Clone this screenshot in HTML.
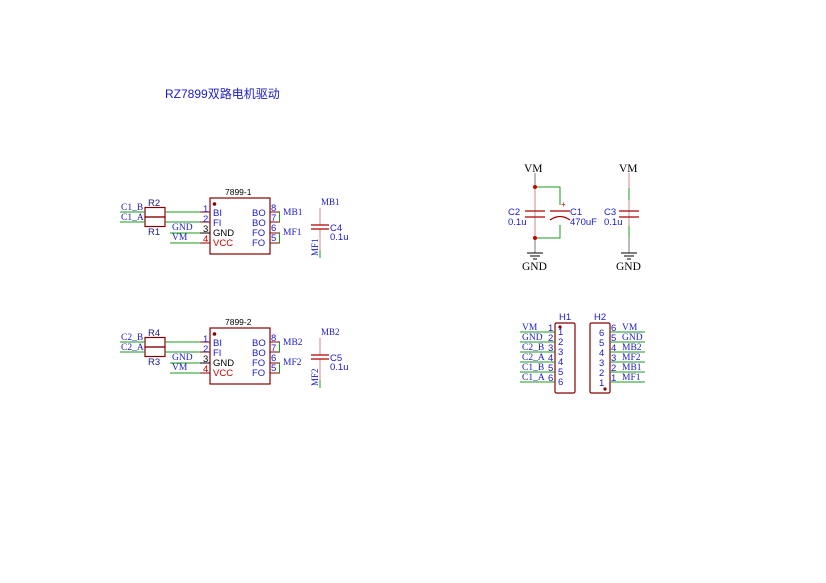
<!DOCTYPE html>
<html><head><meta charset="utf-8"><style>
html,body{margin:0;padding:0;background:#fff;}
svg{display:block;}
.b{fill:#1a1acc;font-family:"Liberation Sans",sans-serif;font-size:9.5px;}
.s{fill:#1a1acc;font-family:"Liberation Serif",serif;font-size:9.5px;}
.k{fill:#000;font-family:"Liberation Sans",sans-serif;font-size:9.5px;}
.r{fill:#cc0000;font-family:"Liberation Sans",sans-serif;font-size:9.5px;}
.rd{stroke:#840000;stroke-width:1.2;fill:none;}
.g{stroke:#1a9a1a;stroke-width:1;fill:none;}
.p{stroke:#840000;stroke-width:1;fill:none;}
</style></head><body>
<svg width="826" height="583" viewBox="0 0 826 583" xmlns="http://www.w3.org/2000/svg">
<text x="165" y="98" style="fill:#1a1acc;font-family:'Liberation Sans','Noto Sans CJK SC',sans-serif;font-size:12px;">RZ7899双路电机驱动</text>

<g id="blk">
<rect x="145" y="207.5" width="20" height="9.5" class="rd"/>
<rect x="145" y="217" width="20" height="9.5" class="rd"/>
<text x="148" y="206" class="b" style="fill:#1a1a80">R2</text>
<text x="148" y="235" class="b" style="fill:#1a1a80">R1</text>
<line x1="120" y1="212" x2="145" y2="212" class="g"/>
<line x1="120" y1="222" x2="145" y2="222" class="g"/>
<text x="121" y="210" class="s">C1_B</text>
<text x="121" y="220" class="s">C1_A</text>
<line x1="165" y1="212" x2="200" y2="212" class="g"/>
<line x1="165" y1="222" x2="200" y2="222" class="g"/>
<line x1="170" y1="233" x2="200" y2="233" class="g"/>
<line x1="170" y1="243" x2="200" y2="243" class="g"/>
<text x="172" y="230" class="s">GND</text>
<text x="172" y="240" class="s">VM</text>
<text x="225" y="195" class="k" style="font-size:8.5px">7899-1</text>
<rect x="210" y="198" width="60" height="56" class="rd"/>
<circle cx="214.5" cy="204" r="1.8" fill="#840000"/>
<line x1="200" y1="212" x2="210" y2="212" class="p"/>
<line x1="200" y1="222" x2="210" y2="222" class="p"/>
<line x1="200" y1="233" x2="210" y2="233" stroke="#000"/>
<line x1="200" y1="243" x2="210" y2="243" class="p"/>
<line x1="270" y1="212" x2="280" y2="212" class="p"/>
<line x1="270" y1="222" x2="280" y2="222" class="p"/>
<line x1="270" y1="233" x2="280" y2="233" class="p"/>
<line x1="270" y1="243" x2="280" y2="243" class="p"/>
<text x="203" y="212" class="b">1</text><text x="203" y="222" class="b">2</text>
<text x="203" y="232" class="k">3</text><text x="203" y="242" class="r">4</text>
<text x="213" y="216" class="b">BI</text><text x="213" y="226" class="b">FI</text>
<text x="213" y="236" class="k">GND</text><text x="213" y="246" class="r">VCC</text>
<text x="252" y="216" class="b">BO</text><text x="252" y="226" class="b">BO</text>
<text x="252" y="236" class="b">FO</text><text x="252" y="246" class="b">FO</text>
<text x="271" y="211" class="b">8</text><text x="271" y="221" class="b">7</text>
<text x="271" y="231" class="b">6</text><text x="271" y="241" class="b">5</text>
<line x1="279.5" y1="212" x2="279.5" y2="222" class="g"/>
<line x1="279.5" y1="233" x2="279.5" y2="243" class="g"/>
<text x="283" y="215" class="s">MB1</text>
<text x="283" y="235" class="s">MF1</text>
<line x1="320" y1="208" x2="320" y2="225" stroke="#c98a8a" stroke-width="1"/>
<line x1="320" y1="229" x2="320" y2="250" stroke="#c98a8a" stroke-width="1"/>
<line x1="320" y1="250" x2="320" y2="258" class="g"/>
<line x1="311" y1="225" x2="329" y2="225" stroke="#a00" stroke-width="1.3"/>
<line x1="311" y1="229" x2="329" y2="229" stroke="#a00" stroke-width="1.3"/>
<text x="321" y="205" class="s" style="font-size:9px">MB1</text>
<text x="330" y="231" class="b">C4</text>
<text x="330" y="240" class="b">0.1u</text>
<text transform="translate(318,256) rotate(-90)" class="s" style="font-size:9px">MF1</text>
</g>

<g transform="translate(0,130)">
<rect x="145" y="207.5" width="20" height="9.5" class="rd"/>
<rect x="145" y="217" width="20" height="9.5" class="rd"/>
<text x="148" y="206" class="b" style="fill:#1a1a80">R4</text>
<text x="148" y="235" class="b" style="fill:#1a1a80">R3</text>
<line x1="120" y1="212" x2="145" y2="212" class="g"/>
<line x1="120" y1="222" x2="145" y2="222" class="g"/>
<text x="121" y="210" class="s">C2_B</text>
<text x="121" y="220" class="s">C2_A</text>
<line x1="165" y1="212" x2="200" y2="212" class="g"/>
<line x1="165" y1="222" x2="200" y2="222" class="g"/>
<line x1="170" y1="233" x2="200" y2="233" class="g"/>
<line x1="170" y1="243" x2="200" y2="243" class="g"/>
<text x="172" y="230" class="s">GND</text>
<text x="172" y="240" class="s">VM</text>
<text x="225" y="195" class="k" style="font-size:8.5px">7899-2</text>
<rect x="210" y="198" width="60" height="56" class="rd"/>
<circle cx="214.5" cy="204" r="1.8" fill="#840000"/>
<line x1="200" y1="212" x2="210" y2="212" class="p"/>
<line x1="200" y1="222" x2="210" y2="222" class="p"/>
<line x1="200" y1="233" x2="210" y2="233" stroke="#000"/>
<line x1="200" y1="243" x2="210" y2="243" class="p"/>
<line x1="270" y1="212" x2="280" y2="212" class="p"/>
<line x1="270" y1="222" x2="280" y2="222" class="p"/>
<line x1="270" y1="233" x2="280" y2="233" class="p"/>
<line x1="270" y1="243" x2="280" y2="243" class="p"/>
<text x="203" y="212" class="b">1</text><text x="203" y="222" class="b">2</text>
<text x="203" y="232" class="k">3</text><text x="203" y="242" class="r">4</text>
<text x="213" y="216" class="b">BI</text><text x="213" y="226" class="b">FI</text>
<text x="213" y="236" class="k">GND</text><text x="213" y="246" class="r">VCC</text>
<text x="252" y="216" class="b">BO</text><text x="252" y="226" class="b">BO</text>
<text x="252" y="236" class="b">FO</text><text x="252" y="246" class="b">FO</text>
<text x="271" y="211" class="b">8</text><text x="271" y="221" class="b">7</text>
<text x="271" y="231" class="b">6</text><text x="271" y="241" class="b">5</text>
<line x1="279.5" y1="212" x2="279.5" y2="222" class="g"/>
<line x1="279.5" y1="233" x2="279.5" y2="243" class="g"/>
<text x="283" y="215" class="s">MB2</text>
<text x="283" y="235" class="s">MF2</text>
<line x1="320" y1="208" x2="320" y2="225" stroke="#c98a8a" stroke-width="1"/>
<line x1="320" y1="229" x2="320" y2="250" stroke="#c98a8a" stroke-width="1"/>
<line x1="320" y1="250" x2="320" y2="258" class="g"/>
<line x1="311" y1="225" x2="329" y2="225" stroke="#a00" stroke-width="1.3"/>
<line x1="311" y1="229" x2="329" y2="229" stroke="#a00" stroke-width="1.3"/>
<text x="321" y="205" class="s" style="font-size:9px">MB2</text>
<text x="330" y="231" class="b">C5</text>
<text x="330" y="240" class="b">0.1u</text>
<text transform="translate(318,256) rotate(-90)" class="s" style="font-size:9px">MF2</text>
</g>

<text x="524" y="172" class="s" style="font-size:11.5px;fill:#000">VM</text>
<line x1="535" y1="173" x2="535" y2="187" stroke="#777"/>
<line x1="535" y1="187" x2="535" y2="238" stroke="#c98a8a"/>
<line x1="535" y1="238" x2="535" y2="253" stroke="#777"/>
<polyline points="535,187 560,187 560,238 535,238" class="g"/>
<circle cx="535" cy="187" r="2" fill="#c00"/>
<circle cx="535" cy="238" r="2" fill="#c00"/>
<line x1="525" y1="211" x2="545" y2="211" stroke="#a00" stroke-width="1.3"/>
<line x1="525" y1="217" x2="545" y2="217" stroke="#a00" stroke-width="1.3"/>
<rect x="556" y="205" width="8" height="20" fill="#fff"/>
<line x1="550" y1="211" x2="570" y2="211" stroke="#a00" stroke-width="1.3"/>
<path d="M550,220 Q560,213 570,220" stroke="#a00" stroke-width="1.3" fill="none"/>
<text x="561" y="207" class="r" style="font-size:8px">+</text>
<text x="508" y="215" class="b">C2</text><text x="508" y="225" class="b">0.1u</text>
<text x="570" y="215" class="b">C1</text><text x="570" y="225" class="b">470uF</text>
<line x1="527" y1="253" x2="543" y2="253" stroke="#000"/>
<line x1="530" y1="256" x2="540" y2="256" stroke="#000"/>
<line x1="533" y1="259" x2="537" y2="259" stroke="#000"/>
<text x="522" y="270" class="s" style="font-size:11.5px;fill:#000">GND</text>

<text x="619" y="172" class="s" style="font-size:11.5px;fill:#000">VM</text>
<line x1="629" y1="173" x2="629" y2="253" stroke="#c98a8a"/>
<line x1="629" y1="188" x2="629" y2="200" class="g"/>
<line x1="629" y1="226" x2="629" y2="238" class="g"/>
<line x1="629" y1="238" x2="629" y2="253" stroke="#777"/>
<line x1="619" y1="211" x2="639" y2="211" stroke="#a00" stroke-width="1.3"/>
<line x1="619" y1="217" x2="639" y2="217" stroke="#a00" stroke-width="1.3"/>
<text x="604" y="215" class="b">C3</text><text x="604" y="225" class="b">0.1u</text>
<line x1="621" y1="253" x2="637" y2="253" stroke="#000"/>
<line x1="624" y1="256" x2="634" y2="256" stroke="#000"/>
<line x1="627" y1="259" x2="631" y2="259" stroke="#000"/>
<text x="616" y="270" class="s" style="font-size:11.5px;fill:#000">GND</text>

<text x="559" y="320" class="b">H1</text>
<rect x="555" y="323" width="20" height="70" rx="1.5" class="rd"/>
<circle cx="560" cy="327" r="1.6" fill="#840000"/>
<line x1="520" y1="332" x2="555" y2="332" class="g"/>
<line x1="520" y1="342" x2="555" y2="342" class="g"/>
<line x1="520" y1="352" x2="555" y2="352" class="g"/>
<line x1="520" y1="362" x2="555" y2="362" class="g"/>
<line x1="520" y1="372" x2="555" y2="372" class="g"/>
<line x1="520" y1="382" x2="555" y2="382" class="g"/>
<text x="522" y="330" class="s">VM</text><text x="522" y="340" class="s">GND</text>
<text x="522" y="350" class="s">C2_B</text><text x="522" y="360" class="s">C2_A</text>
<text x="522" y="370" class="s">C1_B</text><text x="522" y="380" class="s">C1_A</text>
<text x="548" y="331" class="b">1</text><text x="548" y="341" class="b">2</text>
<text x="548" y="351" class="b">3</text><text x="548" y="361" class="b">4</text>
<text x="548" y="371" class="b">5</text><text x="548" y="381" class="b">6</text>
<text x="558" y="335" class="b">1</text><text x="558" y="345" class="b">2</text>
<text x="558" y="355" class="b">3</text><text x="558" y="365" class="b">4</text>
<text x="558" y="375" class="b">5</text><text x="558" y="385" class="b">6</text>

<text x="594" y="320" class="b">H2</text>
<rect x="590" y="323" width="20" height="70" rx="1.5" class="rd"/>
<circle cx="605" cy="389" r="1.6" fill="#840000"/>
<line x1="610" y1="332" x2="645" y2="332" class="g"/>
<line x1="610" y1="342" x2="645" y2="342" class="g"/>
<line x1="610" y1="352" x2="645" y2="352" class="g"/>
<line x1="610" y1="362" x2="645" y2="362" class="g"/>
<line x1="610" y1="372" x2="645" y2="372" class="g"/>
<line x1="610" y1="382" x2="645" y2="382" class="g"/>
<text x="611" y="331" class="b">6</text><text x="611" y="341" class="b">5</text>
<text x="611" y="351" class="b">4</text><text x="611" y="361" class="b">3</text>
<text x="611" y="371" class="b">2</text><text x="611" y="381" class="b">1</text>
<text x="599" y="336" class="b">6</text><text x="599" y="346" class="b">5</text>
<text x="599" y="356" class="b">4</text><text x="599" y="366" class="b">3</text>
<text x="599" y="376" class="b">2</text><text x="599" y="386" class="b">1</text>
<text x="622" y="330" class="s">VM</text><text x="622" y="340" class="s">GND</text>
<text x="622" y="350" class="s">MB2</text><text x="622" y="360" class="s">MF2</text>
<text x="622" y="370" class="s">MB1</text><text x="622" y="380" class="s">MF1</text>
</svg>
</body></html>
